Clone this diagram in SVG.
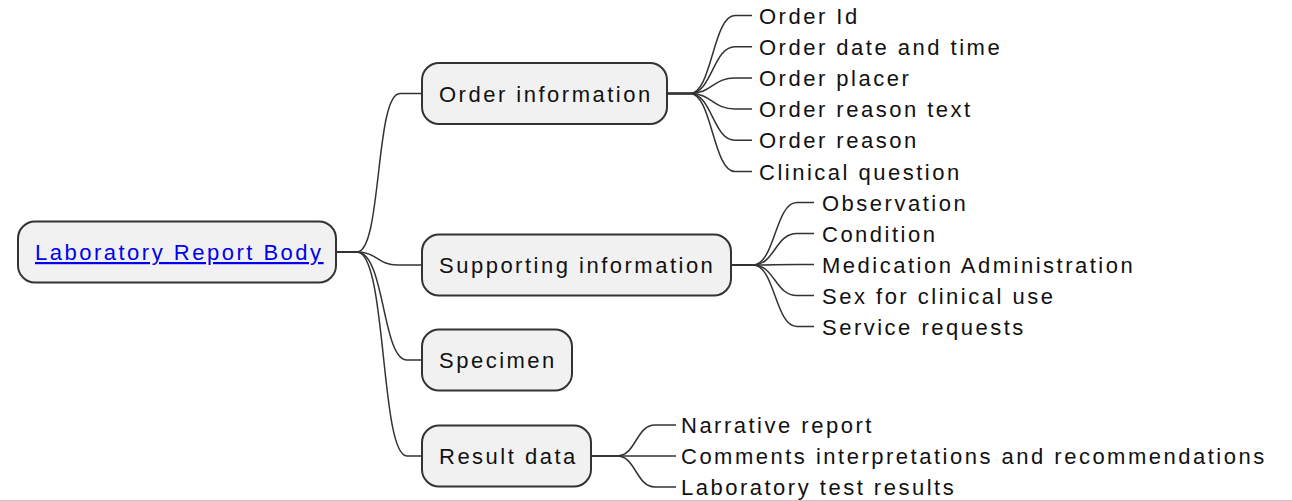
<svg xmlns="http://www.w3.org/2000/svg" width="1292" height="501" viewBox="0 0 1292 501">
<style>
text{font-family:"Liberation Sans",Arial,sans-serif;font-size:22px;letter-spacing:2.5px;fill:#111}
.box{fill:#f1f1f1;stroke:#333;stroke-width:2}
.c path{fill:none;stroke:#333;stroke-width:1.5}
.link{fill:#0000ee;text-decoration:underline}
</style>
<rect width="1292" height="501" fill="#fff"/>
<rect x="0" y="500" width="1292" height="1" fill="#c8c8c8"/>
<g class="c" id="connectors">
<path d="M337,252 H357 C382,252 375,93.5 400,93.5 H422"/>
<path d="M337,252 H357 C377,252 378,265 397,265 H422"/>
<path d="M337,252 H357 C385,252 382,360 407,360 H422"/>
<path d="M337,252 H357 C387,252 380,456 407,456 H422"/>
<path d="M668,93.5 H690 C712,93.5 713,15.5 735,15.5 H752"/>
<path d="M668,93.5 H690 C712,93.5 713,46.7 735,46.7 H752"/>
<path d="M668,93.5 H690 C712,93.5 713,77.9 735,77.9 H752"/>
<path d="M668,93.5 H690 C712,93.5 713,109.1 735,109.1 H752"/>
<path d="M668,93.5 H690 C712,93.5 713,140.3 735,140.3 H752"/>
<path d="M668,93.5 H690 C712,93.5 713,171.5 735,171.5 H752"/>
<path d="M731,265 H753 C775,265 775,202.5 797,202.5 H814"/>
<path d="M731,265 H753 C775,265 775,233.5 797,233.5 H814"/>
<path d="M731,265 H753 C775,265 775,264.5 797,264.5 H814"/>
<path d="M731,265 H753 C775,265 775,295.5 797,295.5 H814"/>
<path d="M731,265 H753 C775,265 775,326.5 797,326.5 H814"/>
<path d="M591,456 H617 C636,456 636,425 655,425 H676"/>
<path d="M591,456 H617 C636,456 636,456 655,456 H676"/>
<path d="M591,456 H617 C636,456 636,487 655,487 H676"/>
</g>
<g id="root"><rect class="box" x="18" y="221.5" width="318" height="61" rx="17"/><text class="link" x="35" y="260">Laboratory Report Body</text></g>
<g id="order"><rect class="box" x="422" y="63" width="245" height="61" rx="17"/><text x="439" y="101.5">Order information</text></g>
<g id="supporting"><rect class="box" x="422" y="234.5" width="309" height="61" rx="17"/><text x="439" y="273">Supporting information</text></g>
<g id="specimen"><rect class="box" x="422" y="329.5" width="150" height="61" rx="17"/><text x="439" y="368">Specimen</text></g>
<g id="result"><rect class="box" x="422" y="425.5" width="169" height="61" rx="17"/><text x="439" y="464">Result data</text></g>
<g id="order-leaves">
<text x="759" y="23.5">Order Id</text>
<text x="759" y="54.7">Order date and time</text>
<text x="759" y="85.9">Order placer</text>
<text x="759" y="117.1">Order reason text</text>
<text x="759" y="148.3">Order reason</text>
<text x="759" y="179.5">Clinical question</text>
</g>
<g id="supporting-leaves">
<text x="822" y="210.5">Observation</text>
<text x="822" y="241.5">Condition</text>
<text x="822" y="272.5">Medication Administration</text>
<text x="822" y="303.5">Sex for clinical use</text>
<text x="822" y="334.5">Service requests</text>
</g>
<g id="result-leaves">
<text x="681" y="433">Narrative report</text>
<text x="681" y="464">Comments interpretations and recommendations</text>
<text x="681" y="495">Laboratory test results</text>
</g>
</svg>
